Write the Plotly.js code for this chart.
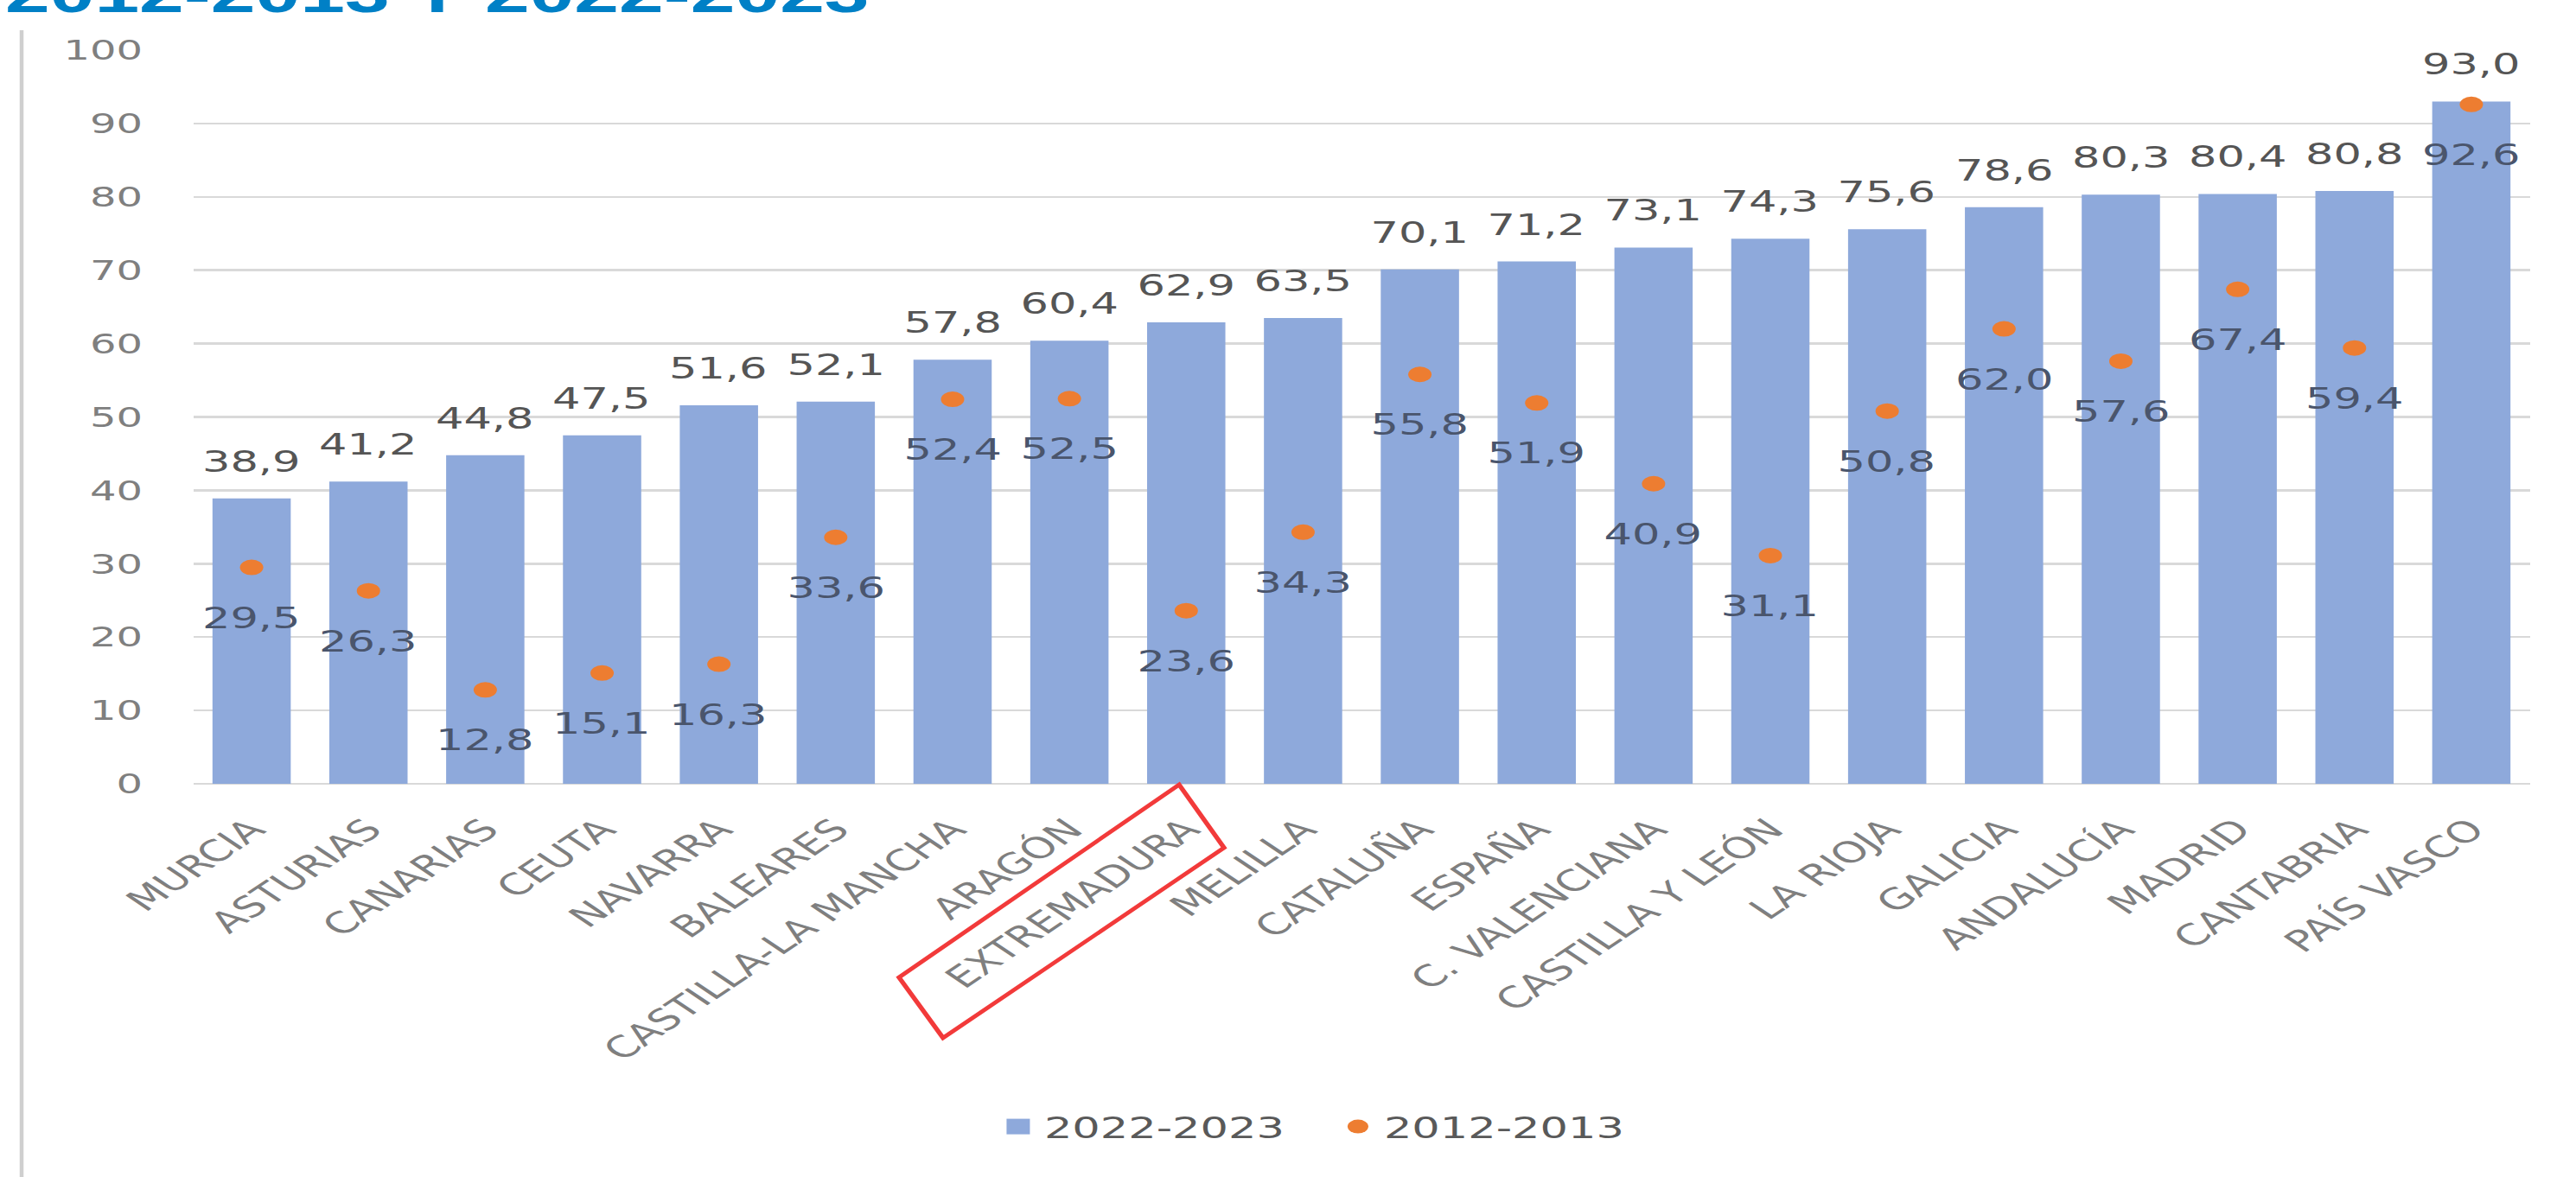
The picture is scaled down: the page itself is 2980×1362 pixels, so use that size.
<!DOCTYPE html>
<html>
<head>
<meta charset="utf-8">
<script src="https://cdn.plot.ly/plotly-3.0.1.min.js"></script>
<style>
html,body{margin:0;padding:0;background:#fff;overflow:hidden;}
#chart{width:1987px;height:1362px;transform:scaleX(1.5);transform-origin:0 0;}
</style>
</head>
<body>
<div id="chart"></div>
<script>
const categories = ["MURCIA","ASTURIAS","CANARIAS","CEUTA","NAVARRA","BALEARES","CASTILLA-LA MANCHA","ARAGÓN","EXTREMADURA","MELILLA","CATALUÑA","ESPAÑA","C. VALENCIANA","CASTILLA Y LEÓN","LA RIOJA","GALICIA","ANDALUCÍA","MADRID","CANTABRIA","PAÍS VASCO"];
const values2022 = [38.9,41.2,44.8,47.5,51.6,52.1,57.8,60.4,62.9,63.5,70.1,71.2,73.1,74.3,75.6,78.6,80.3,80.4,80.8,93.0];
const values2012 = [29.5,26.3,12.8,15.1,16.3,33.6,52.4,52.5,23.6,34.3,55.8,51.9,40.9,31.1,50.8,62.0,57.6,67.4,59.4,92.6];
const seriesNames = ["2022-2023","2012-2013"];
const yTickVals = [0,10,20,30,40,50,60,70,80,90,100];
const titleText = "2012-2013 Y 2022-2023";

const fmt = v => v.toFixed(1).replace('.', ',');
const FONT = "DejaVu Sans, Verdana, sans-serif";

// geometry helpers (unstretched frame; page is stretched 1.5x horizontally)
const W = 1987, H = 1362, ML = 149, MR = 36, MT = 58, MB = 455;
const PW = W - ML - MR, PH = H - MT - MB;
const px = xFull => ((xFull / 1.5) - ML) / PW;
const py = yFull => (MT + PH - yFull) / PH;

const traces = [
  {
    type: 'bar', name: seriesNames[0], x: categories, y: values2022,
    marker: {color: '#8EA9DB'}, hoverinfo: 'none'
  },
  {
    type: 'scatter', mode: 'markers', name: seriesNames[1], x: categories, y: values2012,
    marker: {color: '#ED7D31', symbol: 'circle', size: 18}, hoverinfo: 'none', cliponaxis: false
  }
];

const annotations = [];
categories.forEach((c, i) => {
  annotations.push({x: c, y: values2022[i], xref: 'x', yref: 'y', text: fmt(values2022[i]),
    showarrow: false, yshift: 43, font: {family: FONT, size: 34, color: '#555555'}});
  annotations.push({x: c, y: values2012[i], xref: 'x', yref: 'y', text: fmt(values2012[i]),
    showarrow: false, yshift: -58, font: {family: FONT, size: 34, color: '#4a556c'}});
});

const redBox = [[1364, 908], [1416, 981], [1091, 1201], [1040, 1131]];
const redPath = 'M ' + redBox.map(p => px(p[0]).toFixed(5) + ',' + py(p[1]).toFixed(5)).join(' L ') + ' Z';

const layout = {
  width: W, height: H,
  margin: {l: ML, r: MR, t: MT, b: MB},
  paper_bgcolor: '#fff', plot_bgcolor: '#fff',
  bargap: 0.33,
  showlegend: true,
  title: {
    text: '<b>' + titleText + '</b>',
    font: {family: 'Liberation Sans, Arial, sans-serif', size: 62, color: '#0080C6'},
    xref: 'container', yref: 'container', x: 0.002, xanchor: 'left',
    y: 0.9895, yanchor: 'bottom'
  },
  xaxis: {
    type: 'category', range: [-0.5, categories.length - 0.5],
    tickangle: -45, showgrid: false, ticks: '', showline: false,
    tickfont: {family: FONT, size: 34, color: '#7f7f7f'}, ticklabelstandoff: 25,
    automargin: false
  },
  yaxis: {
    range: [0, 100], tickvals: yTickVals, showgrid: true, gridcolor: '#d9d9d9', gridwidth: 2.5,
    zeroline: true, zerolinecolor: '#d9d9d9', zerolinewidth: 2.5, ticks: '', showline: false,
    tickfont: {family: FONT, size: 32, color: '#7f7f7f'}, ticklabelstandoff: 38,
    automargin: false, fixedrange: true
  },
  legend: {
    orientation: 'h', x: 0.342, xanchor: 'left', y: py(1304), yanchor: 'middle',
    entrywidth: 217, entrywidthmode: 'pixels',
    font: {family: FONT, size: 34, color: '#595959'}, itemclick: false
  },
  annotations: annotations,
  shapes: [
    {type: 'line', xref: 'paper', yref: 'paper', x0: px(25), x1: px(25), y0: py(35), y1: py(1362),
      line: {color: '#cfcfcf', width: 3}},
    {type: 'path', xref: 'paper', yref: 'paper', path: redPath, line: {color: '#F23A3A', width: 4}}
  ]
};

Plotly.newPlot('chart', traces, layout, {displayModeBar: false, staticPlot: true}).then(gd => {
  // enlarge the legend's bar swatch a little, as in the reference
  const sw = gd.querySelector('.legend .traces .legendpoints path');
  if (sw) sw.setAttribute('d', 'M9,9H-9V-9H9Z');
});
</script>
</body>
</html>
